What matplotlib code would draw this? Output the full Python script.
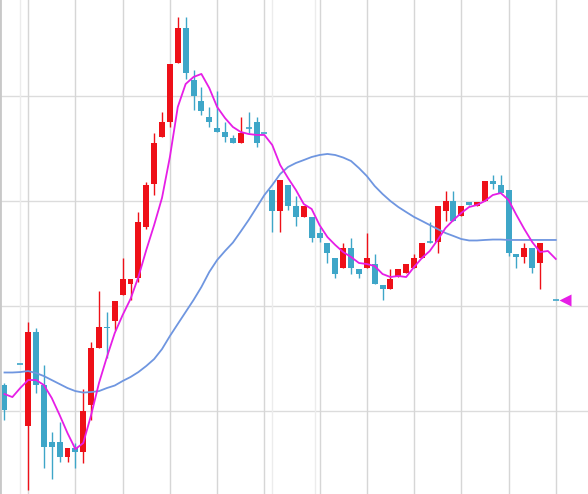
"""Candlestick chart with a short (magenta) and a long (blue) moving average."""
import matplotlib

matplotlib.use("Agg")
import matplotlib.pyplot as plt
import numpy as np

nan = float("nan")

# --------------------------------------------------------------------------- #
# Data (one entry per trading session; index 1 and 69 have no candle)
# --------------------------------------------------------------------------- #
opens = [
    42.48, nan, 44.48, 38.57, 47.52, 42.48, 37.05, 37.05, 35.62, 36.48,
    36.10, 40.57, 46.00, 48.00, 48.57, 51.05, 52.10, 52.64, 57.55, 61.62,
    66.07, 67.55, 73.11, 76.50, 71.52, 69.52, 68.03, 66.98, 66.54, 65.97,
    65.55, 66.98, 67.50, 66.50, 61.05, 59.08, 61.52, 59.52, 58.50, 58.45,
    56.98, 56.03, 54.54, 53.59, 55.50, 53.52, 53.59, 54.00, 52.00, 51.59,
    52.76, 53.10, 53.59, 54.62, 56.10, 56.12, 59.08, 60.03, 58.57, 59.93,
    59.52, 60.03, 61.93, 61.52, 61.05, 54.95, 54.64, 55.50, 54.07, nan,
    50.57,
]
highs = [
    42.67, nan, 44.48, 48.48, 47.90, 44.38, 38.00, 38.95, 36.48, 36.95,
    42.10, 46.57, 51.43, 49.43, 50.48, 54.57, 52.57, 58.98, 61.84, 66.50,
    68.50, 73.02, 77.50, 77.50, 72.48, 70.89, 68.98, 70.50, 67.55, 66.29,
    68.03, 68.50, 68.03, 66.50, 61.05, 62.00, 61.52, 60.48, 59.55, 58.45,
    57.50, 56.03, 54.54, 55.97, 56.45, 53.52, 56.98, 54.95, 52.00, 53.50,
    53.52, 54.00, 54.95, 56.03, 58.03, 59.52, 60.98, 60.98, 59.52, 59.93,
    59.93, 61.93, 62.48, 62.48, 61.05, 54.95, 55.97, 55.50, 56.03, nan,
    50.57,
]
lows = [
    39.14, nan, 44.44, 32.48, 41.71, 34.57, 33.52, 35.14, 35.14, 34.57,
    35.05, 39.14, 46.00, 45.05, 47.71, 51.05, 50.57, 52.30, 57.30, 60.57,
    66.07, 67.08, 73.11, 71.62, 68.67, 68.19, 67.08, 66.60, 65.65, 65.55,
    65.55, 66.48, 65.17, 66.46, 57.08, 57.08, 59.14, 57.62, 58.50, 56.12,
    56.12, 54.12, 52.64, 53.59, 53.05, 52.64, 53.59, 52.07, 50.57, 51.59,
    52.76, 53.10, 53.59, 54.62, 56.00, 55.08, 58.12, 58.12, 58.57, 59.62,
    59.52, 60.03, 61.11, 60.73, 54.76, 53.59, 54.12, 53.11, 51.59, nan,
    50.55,
]
closes = [
    40.10, nan, 44.46, 47.52, 42.48, 36.57, 36.57, 35.62, 36.48, 36.10,
    40.00, 46.00, 48.00, 47.90, 50.48, 52.57, 52.57, 58.03, 61.52, 65.50,
    67.50, 73.02, 76.50, 72.16, 70.03, 68.60, 67.55, 66.60, 66.07, 65.55,
    66.50, 66.95, 65.55, 66.48, 59.08, 62.00, 59.55, 58.50, 59.55, 56.50,
    56.50, 55.02, 53.05, 55.50, 53.59, 53.02, 54.54, 52.07, 51.59, 52.54,
    53.52, 54.00, 54.54, 56.03, 56.08, 59.52, 60.03, 58.12, 59.52, 59.62,
    59.93, 61.93, 61.62, 60.73, 55.08, 54.64, 55.50, 53.59, 56.03, nan,
    50.55,
]
ma_short = [
    41.62, 41.33, 42.19, 42.95, 42.95, 42.48, 41.24, 39.62, 37.90, 36.38,
    36.95, 39.62, 42.67, 45.14, 47.43, 49.14, 50.67, 52.76, 55.33, 57.71,
    60.30, 64.19, 68.95, 71.14, 71.81, 72.10, 70.76, 68.95, 67.90, 67.05,
    66.57, 66.38, 66.29, 66.29, 65.33, 63.43, 62.19, 61.05, 59.71, 59.24,
    57.71, 56.57, 55.81, 55.14, 54.67, 54.10, 54.00, 53.81, 53.05, 52.76,
    52.86, 52.76, 53.71, 54.57, 55.24, 56.29, 57.43, 58.19, 58.86, 59.43,
    59.62, 60.00, 60.57, 60.76, 60.10, 58.67, 57.33, 56.10, 55.14, 55.24,
    54.48,
]
ma_long = [
    43.67, 43.67, 43.71, 43.81, 43.62, 43.33, 42.95, 42.57, 42.19, 41.90,
    41.76, 41.81, 41.90, 42.19, 42.43, 42.86, 43.24, 43.71, 44.29, 44.95,
    45.90, 47.14, 48.29, 49.43, 50.57, 51.81, 53.24, 54.38, 55.24, 56.04,
    57.10, 58.19, 59.37, 60.57, 61.52, 62.57, 63.24, 63.62, 63.90, 64.19,
    64.38, 64.48, 64.38, 64.14, 63.81, 63.14, 62.38, 61.43, 60.67, 60.00,
    59.43, 58.95, 58.48, 58.10, 57.71, 57.33, 56.95, 56.67, 56.38, 56.24,
    56.24, 56.29, 56.33, 56.33, 56.29, 56.29, 56.29, 56.29, 56.29, 56.29,
    56.29,
]
last_price = 50.57

price_grid = [40, 50, 60, 70]
session_grid = [3, 9, 15, 21, 27, 33, 40, 46, 52, 58, 64, 70]
session_grid_minor = [2, 34, 39.4]

UP = "#ee1018"
DOWN = "#3ea6c8"
MA_SHORT = "#e61ee6"
MA_LONG = "#6f96e0"


def plot_candles(ax, o, h, l, c, width=0.76):
    """Draw candle bodies and wicks; up = red, down = blue (CN convention)."""
    for i, (op, hi, lo, cl) in enumerate(zip(o, h, l, c)):
        if np.isnan(op):
            continue
        col = UP if cl > op else DOWN
        ax.vlines(i, lo, hi, color=col, lw=1, zorder=2)
        if abs(cl - op) < 0.08:
            ax.hlines(op, i - width / 2, i + width / 2, color=col, lw=1.2, zorder=3)
        else:
            ax.bar(i, abs(cl - op), bottom=min(op, cl), width=width,
                   color=col, lw=0, zorder=3)


fig = plt.figure(figsize=(5.88, 4.94), dpi=100)
ax = fig.add_axes([0, 0, 1, 1])

for g in price_grid:
    ax.axhline(g, color="#dcdcdc", lw=1, zorder=0)
for g in session_grid:
    ax.axvline(g, color="#d6d6d6", lw=1, zorder=0)
for g in session_grid_minor:
    ax.axvline(g, color="#ececec", lw=1, zorder=0)

plot_candles(ax, opens, highs, lows, closes)

x = np.arange(len(ma_short))
ax.plot(x, ma_long, color=MA_LONG, lw=1.3, zorder=4)
ax.plot(x, ma_short, color=MA_SHORT, lw=1.3, zorder=5)
ax.plot(len(closes) + 0.2, last_price, marker="<", color=MA_SHORT, ms=8,
        mec="none", zorder=6)

ax.set_xlim(-0.571, 74.09)
ax.set_ylim(32.10, 79.14)
ax.set_xticks([]); ax.set_yticks([])
for side in ("top", "right", "bottom"):
    ax.spines[side].set_visible(False)
ax.spines["left"].set_color("#c8c8c8")
ax.spines["left"].set_linewidth(2)

fig.savefig("out.png", dpi=100)
plt.close(fig)
